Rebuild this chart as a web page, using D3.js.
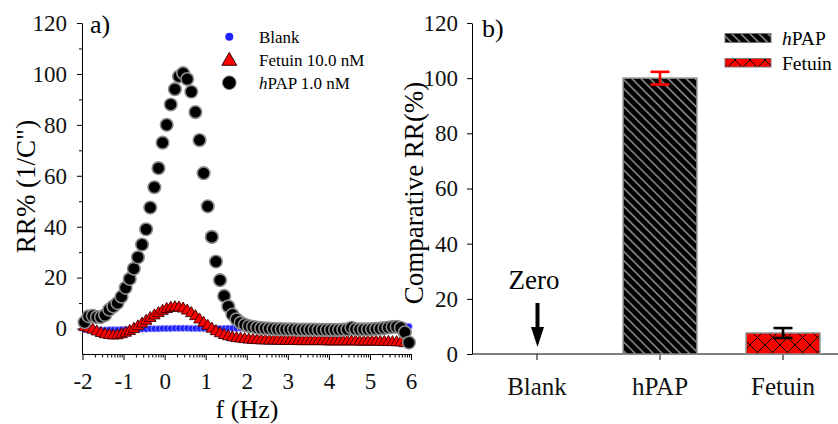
<!DOCTYPE html>
<html><head><meta charset="utf-8">
<script src="https://cdn.jsdelivr.net/npm/d3@7"></script>
<style>
html,body{margin:0;padding:0;background:#fff;}
svg{display:block;font-family:"Liberation Serif","Times New Roman",serif;}
</style></head><body>
<svg id="chart" width="838" height="424"></svg>
<script>
// ---------- Panel a data (log10 frequency vs RR%) ----------
const freqLog = [
 -1.95,-1.85,-1.75,-1.65,-1.55,-1.45,-1.35,-1.25,-1.15,-1.05,
 -0.95,-0.85,-0.75,-0.65,-0.55,-0.45,-0.35,-0.25,-0.15,-0.05,
 0.05,0.15,0.25,0.35,0.45,0.55,0.65,0.75,0.85,0.95,
 1.05,1.15,1.25,1.35,1.45,1.55,1.65,1.75,1.85,1.95,
 2.05,2.15,2.25,2.35,2.45,2.55,2.65,2.75,2.85,2.95,
 3.05,3.15,3.25,3.35,3.45,3.55,3.65,3.75,3.85,3.95,
 4.05,4.15,4.25,4.35,4.45,4.55,4.65,4.75,4.85,4.95,
 5.05,5.15,5.25,5.35,5.45,5.55,5.65,5.75,5.85,5.95];
const blankRR = [
 -0.4,-0.5,-0.5,-0.6,-0.6,-0.6,-0.5,-0.5,-0.5,-0.4,
 -0.4,-0.3,-0.3,-0.2,-0.2,-0.2,-0.1,-0.1,-0.1,0.0,
 0.0,0.0,0.1,0.1,0.1,0.1,0.0,0.0,0.0,0.0,
 0.0,0.0,0.0,0.0,0.0,0.1,0.1,0.1,0.1,0.1,
 0.1,0.1,0.1,0.1,0.1,0.1,0.1,0.1,0.1,0.1,
 0.1,0.1,0.1,0.1,0.1,0.1,0.1,0.1,0.1,0.1,
 0.1,0.1,0.1,0.1,0.1,0.1,0.1,0.1,0.1,0.1,
 0.1,0.1,0.2,0.2,0.2,0.3,0.4,0.6,1.0,0.8];
const fetuinRR = [
 0.5,0.0,-0.5,-1.2,-1.8,-2.3,-2.6,-2.8,-2.7,-2.3,
 -1.7,-1.0,-0.2,0.8,1.9,3.0,4.1,5.1,6.0,6.9,
 7.6,8.1,8.3,8.2,7.8,7.0,6.0,4.8,3.5,2.2,
 1.0,-0.1,-1.1,-1.9,-2.6,-3.1,-3.5,-3.8,-4.0,-4.2,
 -4.4,-4.5,-4.6,-4.7,-4.7,-4.8,-4.8,-4.8,-4.9,-4.9,
 -4.9,-4.9,-5.0,-5.0,-5.0,-5.0,-5.0,-5.0,-5.0,-5.1,
 -5.1,-5.1,-5.1,-5.1,-5.1,-5.1,-5.1,-5.2,-5.2,-5.2,
 -5.2,-5.2,-5.3,-5.3,-5.3,-5.4,-5.4,-5.5,-5.8];
const hpapRR = [
 2.5,4.8,5.0,4.5,4.5,5.3,7.4,8.7,10.0,12.5,
 16.0,19.5,23.5,28.0,33.0,39.0,47.5,55.5,63.0,73.0,
 80.0,88.0,94.0,99.0,100.3,98.0,93.0,85.0,74.0,61.0,
 48.0,36.0,26.3,19.0,12.8,8.7,5.5,3.6,2.3,1.5,
 1.0,0.7,0.4,0.2,0.1,0.0,-0.1,-0.2,-0.2,-0.3,
 -0.3,-0.3,-0.4,-0.4,-0.4,-0.4,-0.4,-0.5,-0.5,-0.5,
 -0.5,-0.5,-0.5,-0.4,-0.3,0.3,-0.2,-0.3,-0.3,-0.3,
 -0.2,-0.1,0.0,0.2,0.4,0.6,0.7,0.3,-1.5,-5.5];
const xTicksA = [-2,-1,0,1,2,3,4,5,6];
const yTicksA = [0,20,40,60,80,100,120];
const yMinorA = [10,30,50,70,90,110];
const legendA = ["Blank","Fetuin 10.0 nM","PAP 1.0 nM"];

// ---------- Panel b data ----------
const categories = ["Blank","hPAP","Fetuin"];
const comparativeRR = [0, 100, 7.6];
const comparativeErr = [0, 2.3, 1.8];
const yTicksB = [0,20,40,60,80,100,120];

const FONT = '"Liberation Serif","Times New Roman",serif';
const svg = d3.select("#chart");
const defs = svg.append("defs");

// patterns
const hatch = defs.append("pattern").attr("id","hatch").attr("patternUnits","userSpaceOnUse")
  .attr("width",6.4).attr("height",6.4).attr("patternTransform","rotate(-45)");
hatch.append("rect").attr("width",6.4).attr("height",6.4).attr("fill","#000");
hatch.append("line").attr("x1",0.8).attr("y1",0).attr("x2",0.8).attr("y2",6.4)
  .attr("stroke","#b8b8b8").attr("stroke-width",1.2);
const cross = defs.append("pattern").attr("id","cross").attr("patternUnits","userSpaceOnUse")
  .attr("width",15).attr("height",15);
cross.append("rect").attr("width",15).attr("height",15).attr("fill","#ff0000");
cross.append("path").attr("d","M0,0L15,15M15,0L0,15").attr("stroke","#000").attr("stroke-width",1);

const fmt = d => String(d);
function styleAxis(g, size) {
  g.attr("font-family", FONT);
  g.selectAll("text").style("font-size", size + "px").style("font-family", FONT).attr("fill","#111");
}

// ================= Panel a =================
const xA = d3.scaleLinear().domain([-2,6]).range([82.5,411]);
const yA = d3.scaleLinear().domain([-10,120]).range([354,23]);

const axYA = svg.append("g").attr("transform","translate(82,0)")
  .call(d3.axisLeft(yA).tickValues(yTicksA).tickFormat(fmt).tickSize(5).tickSizeOuter(0).tickPadding(10));
svg.append("g").attr("transform","translate(82,0)")
  .call(d3.axisLeft(yA).tickValues(yMinorA).tickSize(3).tickFormat("")).select(".domain").remove();
const axXA = svg.append("g").attr("transform","translate(0,354)")
  .call(d3.axisBottom(xA).tickValues(xTicksA).tickFormat(fmt).tickSize(6).tickSizeOuter(0).tickPadding(13));
const minorX = [];
xTicksA.slice(0,-1).forEach(d => { for (let k=2;k<=9;k++) minorX.push(d + Math.log10(k)); });
svg.append("g").attr("transform","translate(0,354)")
  .call(d3.axisBottom(xA).tickValues(minorX).tickSize(3.5).tickFormat("")).select(".domain").remove();
svg.append("line").attr("x1",82).attr("x2",82.5).attr("y1",354).attr("y2",354).attr("stroke","#000");
styleAxis(axYA, 23);
styleAxis(axXA, 23);

// series
const gA = svg.append("g");
gA.selectAll("circle.blank").data(blankRR).join("circle").attr("class","blank")
  .attr("cx",(d,i)=>xA(freqLog[i])).attr("cy",d=>yA(d)).attr("r",3.3)
  .attr("fill","#1f1fff").attr("stroke","#a8a8ff").attr("stroke-width",0.7);
const tri = d3.symbol().type(d3.symbolTriangle).size(58);
gA.selectAll("path.fet").data(fetuinRR).join("path").attr("class","fet")
  .attr("d",tri).attr("transform",(d,i)=>`translate(${xA(freqLog[i])},${yA(d)})`)
  .attr("fill","#ff0000").attr("stroke","#3a0000").attr("stroke-width",0.9);
gA.selectAll("circle.hpap").data(hpapRR).join("circle").attr("class","hpap")
  .attr("cx",(d,i)=>xA(freqLog[i])).attr("cy",d=>yA(d)).attr("r",6.3)
  .attr("fill","#000").attr("stroke","#8c8c8c").attr("stroke-width",1.6);

// legend a
const lg = svg.append("g");
const legY = [36.7, 60, 82.7];
lg.append("circle").attr("cx",229.3).attr("cy",legY[0]).attr("r",4).attr("fill","#1f1fff");
lg.append("path").attr("d",d3.symbol().type(d3.symbolTriangle).size(95))
  .attr("transform",`translate(229.3,${legY[1]+1})`).attr("fill","#ff0000").attr("stroke","#2a0000").attr("stroke-width",1);
lg.append("circle").attr("cx",229.3).attr("cy",legY[2]).attr("r",6.8).attr("fill","#000").attr("stroke","#777").attr("stroke-width",1);
lg.append("text").attr("x",259).attr("y",legY[0]+6.5).style("font-size","17px").text(legendA[0]);
lg.append("text").attr("x",259).attr("y",legY[1]+6.2).style("font-size","17px").text(legendA[1]);
const t3 = lg.append("text").attr("x",259).attr("y",legY[2]+6).style("font-size","17px");
t3.append("tspan").style("font-style","italic").text("h");
t3.append("tspan").text(legendA[2]);

svg.append("text").attr("x",90).attr("y",33).style("font-size","26px").text("a)");
svg.append("text").attr("x",247).attr("y",418).attr("text-anchor","middle").style("font-size","26px").text("f (Hz)");
svg.append("text").attr("transform","translate(35,186.5) rotate(-90)").attr("text-anchor","middle")
  .style("font-size","27px").text("RR% (1/C\")");

// ================= Panel b =================
const xB = d3.scaleBand().domain(categories).range([475.5,844.5]).paddingInner(0.4).paddingOuter(0.2);
const yB = d3.scaleLinear().domain([0,120]).range([354,23]);
const axYB = svg.append("g").attr("transform","translate(472,0)")
  .call(d3.axisLeft(yB).tickValues(yTicksB).tickFormat(fmt).tickSize(5).tickSizeOuter(0).tickPadding(9));
styleAxis(axYB, 23);
svg.append("line").attr("x1",472).attr("x2",838).attr("y1",354).attr("y2",354).attr("stroke","#000");
const axXB = svg.append("g").attr("transform","translate(0,354)")
  .call(d3.axisBottom(xB).tickSize(6).tickSizeOuter(0).tickPadding(17));
axXB.select(".domain").remove();
styleAxis(axXB, 25);

const bw = xB.bandwidth();
const fills = ["none","url(#hatch)","url(#cross)"];
const errCol = ["#000","#ff0000","#000"];
categories.forEach((c,i) => {
  if (comparativeRR[i] <= 0) return;
  svg.append("rect").attr("x",xB(c)).attr("y",yB(comparativeRR[i])).attr("width",bw)
    .attr("height",yB(0)-yB(comparativeRR[i])).attr("fill",fills[i])
    .attr("stroke","#8a8a8a").attr("stroke-width",1.5);
  const cx = xB(c)+bw/2, hi = yB(comparativeRR[i]+comparativeErr[i]), lo = yB(comparativeRR[i]-comparativeErr[i]);
  const e = svg.append("g").attr("stroke",errCol[i]).attr("stroke-width",2.6);
  e.append("line").attr("x1",cx).attr("x2",cx).attr("y1",hi).attr("y2",lo);
  e.append("line").attr("x1",cx-9.5).attr("x2",cx+9.5).attr("y1",hi).attr("y2",hi);
  e.append("line").attr("x1",cx-9.5).attr("x2",cx+9.5).attr("y1",lo).attr("y2",lo);
});

// Zero annotation
const bx = xB("Blank")+bw/2;
svg.append("text").attr("x",bx-3).attr("y",yB(23.5)).attr("text-anchor","middle").style("font-size","27px").text("Zero");
svg.append("line").attr("x1",bx+0.5).attr("x2",bx+0.5).attr("y1",yB(18.5)).attr("y2",yB(9)).attr("stroke","#000").attr("stroke-width",4);
svg.append("path").attr("d",`M${bx-6},${yB(9.8)}L${bx+7},${yB(9.8)}L${bx+0.5},${yB(2.5)}Z`).attr("fill","#000");

// legend b
const lb = svg.append("g");
lb.append("rect").attr("x",725).attr("y",33.5).attr("width",46).attr("height",9).attr("fill","url(#hatch)").attr("stroke","#777").attr("stroke-width",1);
lb.append("rect").attr("x",725).attr("y",58.5).attr("width",46).attr("height",8.5).attr("fill","url(#cross)").attr("stroke","#777").attr("stroke-width",1);
const lt1 = lb.append("text").attr("x",782).attr("y",44.5).style("font-size","19.5px");
lt1.append("tspan").style("font-style","italic").text("h");
lt1.append("tspan").text("PAP");
lb.append("text").attr("x",782).attr("y",70).style("font-size","19.5px").text("Fetuin");

svg.append("text").attr("x",482).attr("y",37).style("font-size","26px").text("b)");
svg.append("text").attr("transform","translate(423,193) rotate(-90)").attr("text-anchor","middle")
  .style("font-size","27px").text("Comparative RR(%)");
</script>
</body></html>
